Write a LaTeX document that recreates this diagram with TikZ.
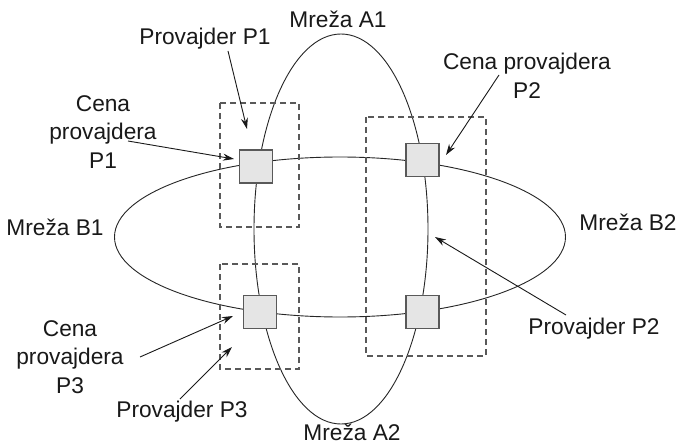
\documentclass[tikz,border=0pt]{standalone}
\usepackage{fontspec}
\setmainfont{Liberation Sans}
\usetikzlibrary{shapes.geometric,arrows.meta}
\begin{document}
\begin{tikzpicture}[x=1pt,y=-1pt,
  lbl/.style={font=\fontsize{22.7}{28.5}\selectfont, align=center, inner sep=0pt, text=black!90},
  bl/.style={lbl, anchor=base},
  net/.style={ellipse, draw=black!85, line width=0.9pt, inner sep=0pt},
  prov/.style={draw=black!65, dashed, dash pattern=on 6pt off 4pt, line width=1.1pt},
  cost/.style={draw=black!65, fill=black!10, line width=1.1pt, minimum width=33pt, minimum height=33pt, inner sep=0pt},
  arr/.style={-{Stealth[length=11pt,width=7pt]}, line width=0.9pt, draw=black!90}]
\useasboundingbox (0,0) rectangle (689,444);
\fill[white] (0,0) rectangle (689,444);
% networks
\node[net, minimum width=451pt, minimum height=160pt] (B) at (340,237) {};
\node[net, minimum width=174pt, minimum height=390pt] (A) at (341,229) {};
% provider regions
\draw[prov] (220,103) rectangle (299,227);
\draw[prov] (366,117) rectangle (486,356);
\draw[prov] (220,264) rectangle (299,369);
% cost nodes
\node[cost] (c1) at (256,166.5) {};
\node[cost] (c2) at (422.5,160) {};
\node[cost] (c3) at (260,312) {};
\node[cost] (c4) at (422.5,312) {};
% labels
\node[bl] (tA1) at (338,28) {Mreža A1};
\node[bl] (tA2) at (352,440) {Mreža A2};
\node[bl] (tB1) at (55,235) {Mreža B1};
\node[bl] (tB2) at (628,230) {Mreža B2};
\node[bl] (tP1) at (205,45) {Provajder P1};
\node[bl] (tP2) at (594,334) {Provajder P2};
\node[bl] (tP3) at (182,417) {Provajder P3};
\node[lbl] (tC1) at (103,132) {Cena\\provajdera\\P1};
\node[lbl] (tC2) at (527,76) {Cena provajdera\\P2};
\node[lbl] (tC3) at (70,357) {Cena\\provajdera\\P3};
% arrow ends
\coordinate (sP1) at (228,51);
\coordinate (eP1) at (247,129);
\coordinate (sC1) at (128,141);
\coordinate (eC1) at (234,159);
\coordinate (sC2) at (499,75);
\coordinate (eC2) at (446,155);
\coordinate (sP2) at (566,315);
\coordinate (eP2) at (435,237);
\coordinate (sC3) at (140,357);
\coordinate (eC3) at (233,316);
\coordinate (sP3) at (180,399);
\coordinate (eP3) at (232,347);
\draw[arr] (sP1) -- (eP1);
\draw[arr] (sC1) -- (eC1);
\draw[arr] (sC2) -- (eC2);
\draw[arr] (sP2) -- (eP2);
\draw[arr] (sC3) -- (eC3);
\draw[arr] (sP3) -- (eP3);
\end{tikzpicture}
\end{document}
